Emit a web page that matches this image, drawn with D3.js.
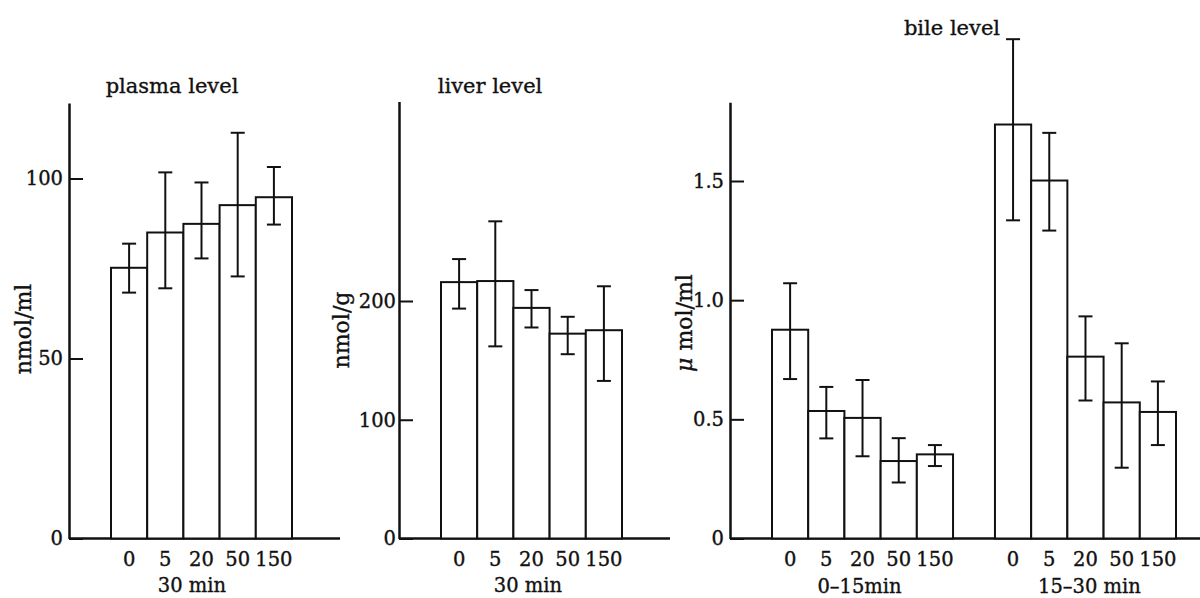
<!DOCTYPE html>
<html>
<head>
<meta charset="utf-8">
<script src="https://cdn.jsdelivr.net/npm/d3@7"></script>
<style>
  html, body { margin: 0; padding: 0; background: #fff; }
  svg { display: block; }
  text { font-family: "DejaVu Serif", "Liberation Serif", serif; fill: #111; stroke: #111; stroke-width: 0.35px; }
</style>
</head>
<body>
<svg id="chart" width="1200" height="598"></svg>
<script>
// ---------------- data ----------------
const categories = ["0", "5", "20", "50", "150"];

const plasmaMean = [75.2, 85.0, 87.4, 92.6, 94.8];
const plasmaHigh = [81.9, 101.7, 98.9, 112.7, 103.2];
const plasmaLow  = [68.3, 69.5, 77.8, 72.8, 87.2];
const plasmaTicks = [0, 50, 100];

const liverMean = [215.9, 216.8, 194.2, 172.5, 175.4];
const liverHigh = [235.3, 267.1, 209.2, 186.7, 212.4];
const liverLow  = [193.6, 161.8, 177.7, 155.2, 132.7];
const liverTicks = [0, 100, 200];

const bileGroups = ["0–15min", "15–30 min"];
const bileEarlyMean = [0.876, 0.535, 0.506, 0.325, 0.353];
const bileEarlyHigh = [1.071, 0.636, 0.665, 0.421, 0.392];
const bileEarlyLow  = [0.669, 0.420, 0.345, 0.235, 0.304];
const bileLateMean  = [1.737, 1.502, 0.763, 0.571, 0.531];
const bileLateHigh  = [2.095, 1.702, 0.932, 0.819, 0.659];
const bileLateLow   = [1.335, 1.292, 0.579, 0.297, 0.392];
const bileTicks = [0, 0.5, 1.0, 1.5];

const titles = ["plasma level", "liver level", "bile level"];
const yTitles = [["", "nmol/ml"], ["", "nmol/g"], ["\u03bc", " mol/ml"]];
const groupLabel = "30 min";

// ---------------- drawing ----------------
const svg = d3.select("#chart");
svg.append("rect").attr("width", 1200).attr("height", 598).attr("fill", "#fff");

const INK = "#111";
const TICK_FONT = 19.5;

function toRows(mean, hi, lo) {
  return categories.map((c, i) => ({ cat: c, v: mean[i], hi: hi[i], lo: lo[i] }));
}

function drawAxis(g, y, axisX, ticks, fmt, pad, baseEnd) {
  const axis = d3.axisLeft(y)
    .tickValues(ticks)
    .tickFormat(fmt)
    .tickSizeInner(-14)
    .tickSizeOuter(0)
    .tickPadding(pad);
  const ag = g.append("g").attr("transform", `translate(${axisX},0)`).call(axis);
  ag.select(".domain").attr("stroke", INK).attr("stroke-width", 2.5);
  ag.selectAll(".tick line").attr("stroke", INK).attr("stroke-width", 2);
  ag.selectAll(".tick text")
    .attr("font-size", TICK_FONT)
    .style("font-family", '"DejaVu Serif", serif')
    .attr("fill", INK);
  g.append("line")
    .attr("x1", axisX).attr("x2", baseEnd)
    .attr("y1", y(0)).attr("y2", y(0))
    .attr("stroke", INK).attr("stroke-width", 2.5);
}

function drawBars(g, x, y, rows) {
  g.selectAll(null).data(rows).enter().append("rect")
    .attr("x", d => x(d.cat))
    .attr("y", d => y(d.v))
    .attr("width", x.bandwidth())
    .attr("height", d => y(0) - y(d.v))
    .attr("fill", "#fff")
    .attr("stroke", INK)
    .attr("stroke-width", 2);
  const eb = g.selectAll(null).data(rows).enter().append("g")
    .attr("transform", d => `translate(${x(d.cat) + x.bandwidth() / 2},0)`);
  eb.append("line").attr("y1", d => y(d.hi)).attr("y2", d => y(d.lo))
    .attr("stroke", INK).attr("stroke-width", 2);
  eb.append("line").attr("x1", -7).attr("x2", 7).attr("y1", d => y(d.hi)).attr("y2", d => y(d.hi))
    .attr("stroke", INK).attr("stroke-width", 2);
  eb.append("line").attr("x1", -7).attr("x2", 7).attr("y1", d => y(d.lo)).attr("y2", d => y(d.lo))
    .attr("stroke", INK).attr("stroke-width", 2);
  g.selectAll(null).data(rows).enter().append("text")
    .attr("x", d => x(d.cat) + x.bandwidth() / 2)
    .attr("y", y(0) + 27)
    .attr("text-anchor", "middle")
    .attr("font-size", TICK_FONT)
    .text(d => d.cat);
}

function yTitle(g, parts, x, yc, size) {
  const t = g.append("text")
    .attr("transform", `translate(${x},${yc}) rotate(-90)`)
    .attr("text-anchor", "middle")
    .attr("font-size", size);
  if (parts[0]) t.append("tspan").attr("font-style", "italic").text(parts[0]);
  t.append("tspan").text(parts[1]);
}

function title(g, text, x, yb) {
  g.append("text").attr("x", x).attr("y", yb).attr("text-anchor", "middle")
    .attr("font-size", 21).text(text);
}

const fmtInt = d => String(d);
const fmtDec = d => d === 0 ? "0" : d3.format(".1f")(d);

// ---- Panel 1: plasma ----
{
  const g = svg.append("g");
  const y = d3.scaleLinear().domain([0, 100]).range([538.5, 178.5]);
  const yAxisScale = y.copy().domain([0, 121]).range([y(0), y(121)]);
  const x = d3.scaleBand().domain(categories).range([111, 292]).padding(0);
  drawAxis(g, yAxisScale, 69, plasmaTicks, fmtInt, 6, 340);
  drawBars(g, x, y, toRows(plasmaMean, plasmaHigh, plasmaLow));
  g.append("text").attr("x", 192).attr("y", 592).attr("text-anchor", "middle")
    .attr("font-size", TICK_FONT).text(groupLabel);
  title(g, titles[0], 172, 93);
  yTitle(g, yTitles[0], 31, 329, 22);
}

// ---- Panel 2: liver ----
{
  const g = svg.append("g");
  const y = d3.scaleLinear().domain([0, 200]).range([538.5, 301]);
  const yAxisScale = y.copy().domain([0, 368]).range([y(0), y(368)]);
  const x = d3.scaleBand().domain(categories).range([441, 622]).padding(0);
  drawAxis(g, yAxisScale, 399, liverTicks, fmtInt, 3, 670);
  drawBars(g, x, y, toRows(liverMean, liverHigh, liverLow));
  g.append("text").attr("x", 528).attr("y", 592).attr("text-anchor", "middle")
    .attr("font-size", TICK_FONT).text(groupLabel);
  title(g, titles[1], 490, 93);
  yTitle(g, yTitles[1], 349, 330, 22);
}

// ---- Panel 3: bile ----
{
  const g = svg.append("g");
  const y = d3.scaleLinear().domain([0, 1.5]).range([538.5, 181]);
  const yAxisScale = y.copy().domain([0, 1.83]).range([y(0), y(1.83)]);
  const outer = d3.scaleBand().domain(bileGroups).range([772, 1176]).paddingInner(0.188).paddingOuter(0);
  drawAxis(g, yAxisScale, 730, bileTicks, fmtDec, 6, 1200);
  const series = [
    toRows(bileEarlyMean, bileEarlyHigh, bileEarlyLow),
    toRows(bileLateMean, bileLateHigh, bileLateLow)
  ];
  bileGroups.forEach((grp, i) => {
    const x = d3.scaleBand().domain(categories)
      .range([outer(grp), outer(grp) + outer.bandwidth()]).padding(0);
    drawBars(g, x, y, series[i]);
    g.append("text").attr("x", outer(grp) + outer.bandwidth() / 2 + (i === 0 ? -3 : 4))
      .attr("y", 593).attr("text-anchor", "middle")
      .attr("font-size", TICK_FONT).text(grp);
  });
  title(g, titles[2], 952, 35);
  yTitle(g, yTitles[2], 692, 323, 22);
}
</script>
</body>
</html>
